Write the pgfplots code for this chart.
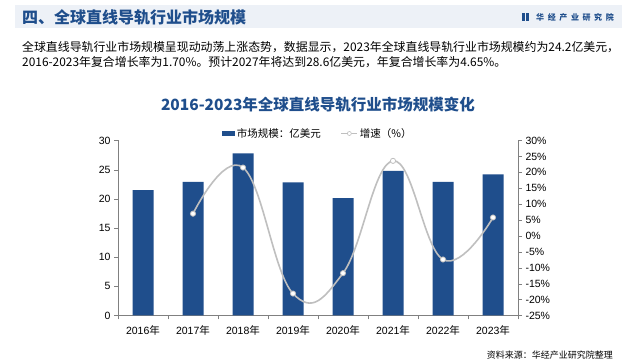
\documentclass[border=0pt]{standalone}
\usepackage{pgfplots}
\pgfplotsset{compat=1.18}
\usepackage{fontspec}
\setmainfont{Liberation Sans}
\newfontfamily\cjk{Noto Sans CJK SC}
\definecolor{barblue}{RGB}{31,78,140}
\definecolor{titleblue}{RGB}{31,78,140}
\definecolor{bandgray}{RGB}{237,241,247}
\definecolor{linegray}{RGB}{191,191,191}
\definecolor{axgray}{RGB}{128,128,128}
\begin{document}
\begin{tikzpicture}
\path[fill=white] (0pt,0pt) rectangle (640pt,363pt);
% header band
\fill[bandgray] (15pt,358pt) rectangle (622pt,335pt);
\node[anchor=west,inner sep=0pt,text=titleblue,font=\cjk\bfseries\fontsize{16}{18}\selectfont] at (22pt,346pt) {四、全球直线导轨行业市场规模};
\fill[titleblue] (522pt,350pt) rectangle (524.5pt,342pt);
\fill[titleblue] (526pt,350pt) rectangle (528.5pt,342pt);
\node[anchor=west,inner sep=0pt,text=titleblue,font=\cjk\bfseries\fontsize{8}{9}\selectfont] at (536pt,346pt) {华\hspace{3.6pt}经\hspace{3.6pt}产\hspace{3.6pt}业\hspace{3.6pt}研\hspace{3.6pt}究\hspace{3.6pt}院};
% body text
\node[anchor=west,inner sep=0pt,font=\cjk\fontsize{11.9}{14}\selectfont] at (22pt,316pt) {全球直线导轨行业市场规模呈现动动荡上涨态势，数据显示，2023年全球直线导轨行业市场规模约为24.2亿美元，};
\node[anchor=west,inner sep=0pt,font=\cjk\fontsize{11.9}{14}\selectfont] at (22pt,301pt) {2016-2023年复合增长率为1.70\%。预计2027年将达到28.6亿美元，年复合增长率为4.65\%。};
% chart title
\node[inner sep=0pt,text=titleblue,font=\cjk\bfseries\fontsize{15.5}{18}\selectfont] at (318pt,258pt) {2016-2023年全球直线导轨行业市场规模变化};
% source
\node[anchor=east,inner sep=0pt,font=\cjk\fontsize{9}{10}\selectfont] at (613pt,8pt) {资料来源：华经产业研究院整理};

\begin{axis}[
  at={(118pt,47.5pt)}, anchor=south west,
  width=400pt, height=175pt, scale only axis,
  xmin=-0.5, xmax=7.5, ymin=0, ymax=30,
  axis y line*=left, axis x line*=bottom,
  axis line style={draw=axgray,-},
  tick style={draw=axgray},
  tick align=outside,
  ytick={0,5,...,30},
  xtick={0,...,7},
  xticklabels={2016{\cjk 年},2017{\cjk 年},2018{\cjk 年},2019{\cjk 年},2020{\cjk 年},2021{\cjk 年},2022{\cjk 年},2023{\cjk 年}},
  minor xtick={-0.5,0.5,...,7.5},
  major x tick style={draw=none},
  minor tick length=4pt, major tick length=4pt,
  ticklabel style={font=\fontsize{10.5}{12}\selectfont},
  /pgf/number format/assume math mode=true,
  xticklabel style={yshift=-3pt},
]
\addplot[ybar, bar width=21pt, fill=barblue, draw=none] coordinates {
(0,21.5) (1,22.9) (2,27.8) (3,22.8) (4,20.1) (5,24.8) (6,22.9) (7,24.2)};
\end{axis}

\begin{axis}[
  at={(118pt,47.5pt)}, anchor=south west,
  width=400pt, height=175pt, scale only axis,
  xmin=-0.5, xmax=7.5, ymin=-25, ymax=30,
  axis y line*=right, axis x line=none,
  axis line style={draw=axgray,-},
  tick style={draw=axgray},
  tick align=outside, major tick length=4pt,
  ytick={-25,-20,...,30},
  yticklabel={\pgfmathprintnumber{\tick}\%},
  ticklabel style={font=\fontsize{10.5}{12}\selectfont},
  /pgf/number format/assume math mode=true,
  legend style={at={(0.5,1.04)}, anchor=center, draw=none, fill=none,
    font=\cjk\fontsize{10.5}{12}\selectfont, legend columns=2,
    /tikz/every even column/.append style={column sep=18pt}},
]
\addlegendimage{legend image code/.code={\fill[barblue] (0pt,-2pt) rectangle (12pt,2pt);}}
\addlegendentry{市场规模：亿美元}
\addplot[color=linegray, line width=1.6pt, smooth, tension=0.7,
  mark=*, mark size=2.6pt, mark options={fill=white, draw=linegray, line width=0.8pt},
  legend image code/.code={\draw[linegray,line width=1pt] (0pt,0pt) -- (16pt,0pt); \draw[linegray,fill=white,line width=0.6pt] (8pt,0pt) circle (2pt);}] coordinates {
(1,7.0) (2,21.5) (3,-18.1) (4,-11.7) (5,23.6) (6,-7.4) (7,5.8)};
\addlegendentry{增速（\%）}
\end{axis}
\end{tikzpicture}
\end{document}
